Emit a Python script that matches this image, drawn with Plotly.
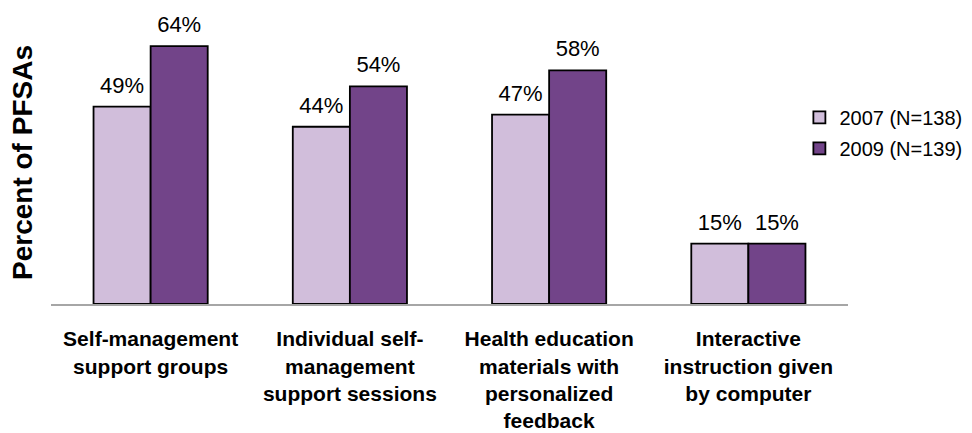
import plotly.graph_objects as go

categories = [
    "<b>Self-management<br>support groups</b>",
    "<b>Individual self-<br>management<br>support sessions</b>",
    "<b>Health education<br>materials with<br>personalized<br>feedback</b>",
    "<b>Interactive<br>instruction given<br>by computer</b>",
]
series_2007 = [49, 44, 47, 15]
series_2009 = [64, 54, 58, 15]
names = ["2007 (N=138)", "2009 (N=139)"]
colors = ["#D1BEDB", "#724489"]

GAP = 0.427
fig = go.Figure()
for name, vals, col in zip(names, [series_2007, series_2009], colors):
    fig.add_trace(go.Bar(
        x=categories, y=vals, name=name, legendgroup=name,
        marker=dict(color=col, line=dict(color="black", width=1.8)),
        hoverinfo="skip",
    ))
for name, vals in zip(names, [series_2007, series_2009]):
    fig.add_trace(go.Scatter(
        x=categories, y=vals, mode="markers+text", showlegend=False,
        text=[f"{v}%" for v in vals], textposition="top center",
        textfont=dict(size=22, color="#000"),
        marker=dict(size=12, opacity=0), cliponaxis=False, hoverinfo="skip",
    ))

fig.update_layout(
    width=964, height=425,
    margin=dict(l=43, r=124, t=14, b=129, autoexpand=False),
    barmode="group", bargap=GAP, bargroupgap=0,
    scattermode="group", scattergap=GAP,
    plot_bgcolor="white", paper_bgcolor="white",
    font=dict(family="Liberation Sans, Arial, sans-serif", size=21, color="#000"),
    xaxis=dict(showline=True, linecolor="#A6A6A6", linewidth=2, ticks="",
               tickfont=dict(size=21), showgrid=False, ticklabelstandoff=15),
    yaxis=dict(range=[0, 70], showticklabels=False, showgrid=False, zeroline=False,
               showline=False, ticks=""),
    annotations=[dict(text="<b>Percent of PFSAs</b>", textangle=-90,
                      xref="paper", yref="paper", x=0, y=0.5, xanchor="center",
                      yanchor="middle", xshift=-29, showarrow=False,
                      font=dict(size=28))],
    legend=dict(x=0.939, y=0.731, xanchor="left", yanchor="top",
                font=dict(size=20), itemwidth=30, tracegroupgap=2,
                traceorder="grouped", bgcolor="rgba(0,0,0,0)"),
    showlegend=True,
)
fig.write_html("out.html")
